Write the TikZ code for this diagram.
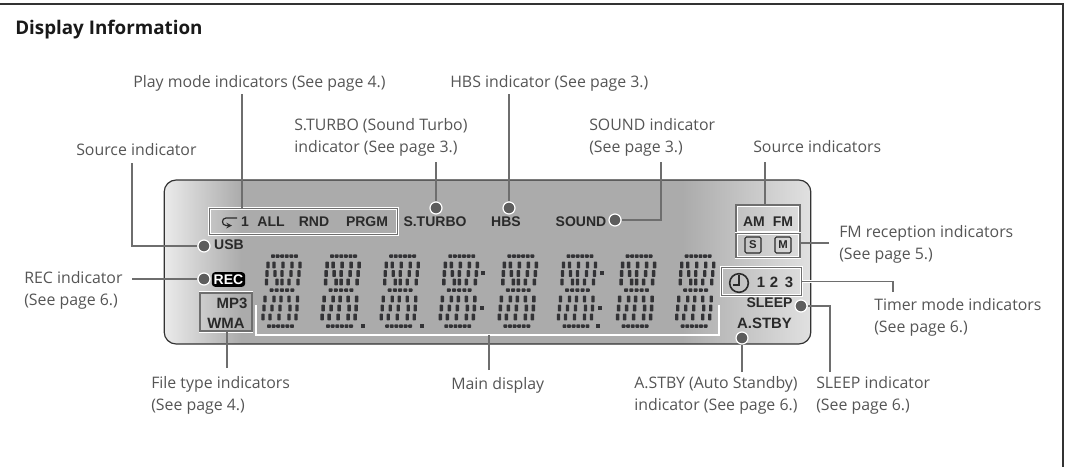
\documentclass[tikz,border=0pt]{standalone}
\usepackage{fontspec}
\setmainfont{Open Sans}
\newfontfamily\lcdfont{Liberation Sans}
\definecolor{labelgray}{HTML}{555555}
\definecolor{leadgray}{HTML}{6E6E6E}
\definecolor{lcdink}{HTML}{2A2A2A}
\definecolor{dashink}{HTML}{333336}
\pgfdeclarehorizontalshading{lcdshade}{100bp}{color(0bp)=(white!92!black); color(25bp)=(white!92!black); color(31bp)=(black!33); color(65bp)=(black!33); color(75bp)=(white!88!black); color(100bp)=(white!88!black)}
\tikzset{
  lab/.style={anchor=base west,inner sep=0pt,align=left,text=labelgray,font=\fontsize{11.9}{16.5}\selectfont},
  lcd/.style={inner sep=0pt,text=lcdink,font=\lcdfont\bfseries\fontsize{10.5}{12}\selectfont},
  lcdbig/.style={inner sep=0pt,text=lcdink,font=\lcdfont\bfseries\fontsize{11.2}{12}\selectfont},
  lcdbox/.style={draw=white,line width=0.4pt,double=leadgray,double distance=1.3pt,inner sep=0pt},
  lead/.style={draw=leadgray,line width=1.1pt,preaction={draw=white,line width=2.2pt}},
  inddot/.style={circle,fill=leadgray!85!black,draw=white,line width=0.9pt,minimum size=9pt,inner sep=0pt},
  segbox/.style={draw=lcdink,line width=0.8pt,rounded corners=1pt,minimum size=12pt,inner sep=0pt,text=lcdink,font=\lcdfont\bfseries\fontsize{8.5}{10}\selectfont},
}
\begin{document}
\begin{tikzpicture}[x=0.75pt,y=-0.75pt]
\useasboundingbox (0,0) rectangle (1066,467);
\draw[line width=0.9pt,black!80] (0,4) -- (1063,4) -- (1063,467);
\node[anchor=base west,inner sep=0pt,text=black!90,font=\bfseries\fontsize{14.1}{16}\selectfont] (title) at (15,35) {Display Information};
% lcd panel
\node[rounded corners=9pt,shading=lcdshade,draw=black!80,line width=0.9pt,minimum width=485pt,minimum height=123pt,inner sep=0pt] (panel) at (487.5,262) {};
% dashes of the eight digits
\foreach \d in {263,322.1,381.2,440.3,499.4,558.5,617.6,676.7} {
  \foreach \i in {0,...,5} \fill[dashink,rounded corners=0.5pt] (\d+8+\i*4.6,254.4) rectangle ++(3.9,3.4);
  \foreach \i in {0,...,4} \fill[dashink,rounded corners=0.5pt] (\d+6.5+\i*5.2,288.4) rectangle ++(4,3.4);
  \foreach \i in {0,...,5} \fill[dashink,rounded corners=0.5pt] (\d+4+\i*4.6,324.4) rectangle ++(3.9,3.4);
  \foreach \y/\xa/\xb/\xc/\xd/\xe in {265/5/11/20/29/37,273.5/4/12/19/28/36,282/3.5/14/19/26/35,299/2/11/18/26/34.5,308/1/9/17/27/34,317/0/7/16/26/33} {
    \foreach \u in {\xa,\xb,\xc,\xd,\xe} \fill[dashink,rounded corners=0.5pt] (\d+\u-1.7,\y-3.4) rectangle ++(3.4,6.8);
  }
}
% points and colons
\foreach \x/\y in {363/325.5,422/325.5,483/273,482/308,602/273,600/308,598/325.5} \fill[dashink] (\x-1.8,\y-2) rectangle ++(3.6,4);
% main display bracket
\coordinate (brkleft) at (256,305);
\coordinate (brkright) at (719,305);
\coordinate (brkjoin) at (489,335);
\coordinate (mainend) at (489,370);
\draw[white,line width=1pt] (brkleft) |- (brkright |- brkjoin) -- (brkright);
% boxes
\node[lcdbox,minimum width=141pt,minimum height=19.5pt] (playbox) at (303.5,221.5) {};
\node[lcdbox,minimum width=39pt,minimum height=29pt] (filebox) at (226,312) {};
\node[lcdbox,minimum width=47.5pt,minimum height=20.5pt] (ambox) at (768,219) {};
\node[lcdbox,minimum width=47.5pt,minimum height=18pt] (fmbox) at (768,245.5) {};
\node[lcdbox,minimum width=60pt,minimum height=21pt] (timerbox) at (761.5,281.5) {};
% lcd texts
\node[lcd] (usb) at (229,245) {USB};
\node[lcd,fill=black,text=white,rounded corners=2.5pt,minimum width=25pt,minimum height=11pt] (rec) at (228.5,279.5) {REC};
\node[lcdbig] (mpthree) at (232,303) {MP3};
\node[lcdbig] (wma) at (226,323) {WMA};
\node[lcd] (one) at (245,222) {1};
\node[lcd] (all) at (271,222) {ALL};
\node[lcd] (rnd) at (314,222) {RND};
\node[lcd] (prgm) at (367,222) {PRGM};
\draw[->,>=stealth,lcdink,line width=0.9pt] (237,218) -- (226,218) to[out=180,in=180,looseness=1.6] (226,225.5) -- (232,225.5);
\node[lcd] (sturbo) at (435,222) {S.TURBO};
\node[lcd] (hbs) at (506,222) {HBS};
\node[lcd] (sound) at (581,222) {SOUND};
\node[lcd] (am) at (754,222) {AM};
\node[lcd] (fm) at (783,222) {FM};
\node[segbox] (sseg) at (753,245) {S};
\node[segbox] (mseg) at (783,245) {M};
\node[circle,draw=lcdink,line width=1.2pt,minimum size=14pt,inner sep=0pt] (clock) at (739,283) {};
\draw[lcdink,line width=1pt] (739,275) -- (739,285) -- (733,285);
\node[lcdbig] (tone) at (761,282) {1};
\node[lcdbig] (ttwo) at (774,282) {2};
\node[lcdbig] (tthree) at (789,282) {3};
\node[lcd] (sleep) at (769.5,303) {SLEEP};
\node[lcdbig] (astby) at (764.5,323) {A.STBY};
% dots
\node[inddot] (usbdot) at (204,246) {};
\node[inddot] (recdot) at (204,279) {};
\node[inddot] (sturbodot) at (436,208) {};
\node[inddot] (hbsdot) at (509,208) {};
\node[inddot] (sounddot) at (615,220) {};
\node[inddot] (sleepdot) at (801,306) {};
\node[inddot] (astbydot) at (742,338) {};
% free ends
\coordinate (playend) at (242,94);
\coordinate (sourceend) at (132,163);
\coordinate (recend) at (132,279);
\coordinate (sturboend) at (436,162);
\coordinate (hbsend) at (509,94);
\coordinate (soundend) at (661,162);
\coordinate (amend) at (765,162);
\coordinate (fmend) at (829,243);
\coordinate (timerend) at (893,292);
\coordinate (sleepend) at (830,372);
\coordinate (astbyend) at (742,372);
\coordinate (fileend) at (227,368);
% connectors
\draw[lead] (playend) -- (playend |- playbox.north);
\draw[lead] (sourceend) |- (usbdot);
\draw[lead] (recend) -- (recdot);
\draw[lead] (sturboend) -- (sturbodot);
\draw[lead] (hbsend) -- (hbsdot);
\draw[lead] (soundend) |- (sounddot);
\draw[lead] (amend) -- (amend |- ambox.north);
\draw[lead] (fmend) -- (fmend -| fmbox.east);
\draw[lead] (timerend) |- (timerbox.east);
\draw[lead] (sleepend) |- (sleepdot);
\draw[lead] (astbyend) -- (astbydot);
\draw[lead] (fileend) -- (fileend |- filebox.south);
\draw[lead] (mainend) -- (brkjoin);
% labels
\node[lab] (playlab) at (133,87) {Play mode indicators (See page 4.)};
\node[lab] (hbslab) at (450,87) {HBS indicator (See page 3.)};
\node[lab] (sturbolab) at (294,152) {S.TURBO (Sound Turbo)\\indicator (See page 3.)};
\node[lab] (soundlab) at (589,152) {SOUND indicator\\(See page 3.)};
\node[lab] (sourcelab) at (76,155) {Source indicator};
\node[lab] (sourceslab) at (753,152) {Source indicators};
\node[lab] (fmlab) at (839,259) {FM reception indicators\\(See page 5.)};
\node[lab] (reclab) at (24,305) {REC indicator\\(See page 6.)};
\node[lab] (timerlab) at (874,332) {Timer mode indicators\\(See page 6.)};
\node[lab] (filelab) at (151,410) {File type indicators\\(See page 4.)};
\node[lab] (mainlab) at (451,389) {Main display};
\node[lab] (astbylab) at (634,410) {A.STBY (Auto Standby)\\indicator (See page 6.)};
\node[lab] (sleeplab) at (816,410) {SLEEP indicator\\(See page 6.)};
\end{tikzpicture}
\end{document}
